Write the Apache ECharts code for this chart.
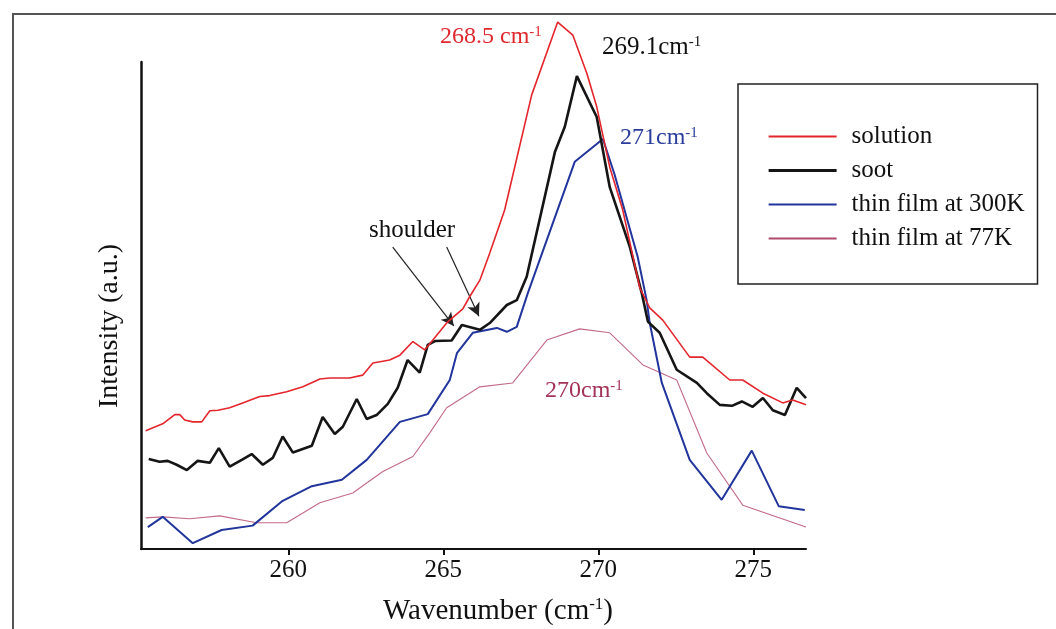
<!DOCTYPE html>
<html>
<head>
<meta charset="utf-8">
<script src="https://cdn.jsdelivr.net/npm/echarts@6/dist/echarts.min.js"></script>
<style>
html,body{margin:0;padding:0;background:#fff;}
#chart{width:1056px;height:629px;}
</style>
</head>
<body>
<div id="chart"></div>
<script>
// ---- data (wavenumber in cm^-1, intensity in arbitrary units) ----
const seriesNames = ['solution', 'soot', 'thin film at 300K', 'thin film at 77K'];
const xTicks = [260, 265, 270, 275];

const solution = [
  [255.40,24.3],[255.95,25.7],[256.34,27.6],[256.50,27.6],[256.66,26.5],[256.92,26.1],[257.21,26.1],
  [257.47,28.4],[257.73,28.5],[258.11,29.0],[258.53,30.0],[259.08,31.3],[259.40,31.5],[259.95,32.3],
  [260.47,33.3],[261.02,34.9],[261.34,35.1],[261.98,35.1],[262.40,35.7],[262.73,38.2],[263.27,38.8],
  [263.60,39.8],[264.02,42.6],[264.40,40.9],[264.56,42.1],[265.11,46.4],[265.21,47.0],[265.63,49.3],
  [265.85,51.8],[266.18,55.2],[266.50,60.8],[266.98,69.6],[267.85,93.2],[268.69,108.2],[269.18,105.5],
  [269.63,97.7],[269.95,90.8],[270.37,78.4],[270.79,69.6],[271.34,53.6],[271.66,49.5],[272.08,47.0],
  [272.95,39.4],[273.37,39.4],[274.24,34.7],[274.66,34.7],[275.31,32.0],[275.95,30.0],[276.27,30.6],
  [276.70,29.6]
];

const soot = [
  [255.50,18.5],[255.85,17.9],[256.11,18.1],[256.40,17.3],[256.73,16.2],[257.08,18.1],[257.47,17.7],
  [257.76,20.7],[258.11,16.9],[258.50,18.3],[258.82,19.5],[259.18,17.3],[259.50,18.7],[259.82,23.1],
  [260.15,19.8],[260.76,21.2],[261.11,27.1],[261.50,23.6],[261.76,25.1],[262.21,30.8],[262.53,26.7],
  [262.85,27.5],[263.21,29.8],[263.53,33.1],[263.85,38.8],[264.24,36.2],[264.50,41.9],[264.73,42.7],
  [265.27,42.8],[265.60,46.0],[266.18,45.0],[266.50,46.4],[267.05,50.1],[267.37,51.1],[267.69,55.9],
  [268.60,81.5],[268.92,86.7],[269.31,97.1],[269.95,88.7],[270.37,74.3],[271.02,62.0],[271.40,52.6],
  [271.60,46.7],[271.98,44.4],[272.53,36.8],[273.18,34.1],[273.50,32.0],[273.92,29.6],[274.31,29.4],
  [274.63,30.3],[274.98,29.2],[275.31,31.0],[275.63,28.5],[276.02,27.5],[276.40,33.1],[276.70,31.0]
];

const film300 = [
  [255.47,4.5],[255.95,6.6],[256.92,1.2],[257.85,3.9],[258.85,4.8],[259.82,9.9],[260.76,12.9],
  [261.73,14.2],[262.53,18.3],[263.60,26.1],[264.50,27.7],[265.21,34.7],[265.44,40.2],[265.95,44.4],
  [266.73,45.4],[267.05,44.6],[267.37,45.6],[267.73,52.6],[269.24,79.5],[270.15,84.2],[270.53,76.8],
  [271.27,60.0],[271.56,51.1],[271.66,46.4],[272.05,34.1],[272.95,18.3],[273.98,10.1],[274.95,20.2],
  [275.82,8.8],[276.66,8.0]
];

const film77 = [
  [255.40,6.4],[255.95,6.6],[256.82,6.2],[257.79,6.8],[258.98,5.4],[259.95,5.4],[261.02,9.5],
  [262.08,11.5],[263.05,15.9],[264.02,19.0],[264.56,23.8],[265.11,29.0],[266.18,33.3],[267.24,34.1],
  [268.34,42.9],[269.40,45.2],[270.37,44.4],[271.44,37.8],[272.53,34.7],[273.50,19.7],[274.66,9.0],
  [276.70,4.5]
];

// shoulder arrows: [start, end] in data coordinates
const shoulderArrows = [
  [[263.37, 62.0], [265.34, 45.8]],
  [[265.11, 62.0], [266.15, 47.8]]
];

// ---- styles ----
const FF = '"Liberation Serif", "Times New Roman", serif';
const colors = ['#e4262c', '#151515', '#22359c', '#c26a88'];
const widths = [1.6, 2.6, 2.0, 1.1];

const chart = echarts.init(document.getElementById('chart'), null, {renderer: 'canvas'});

function lineSeries(i, data, extra) {
  return Object.assign({
    name: seriesNames[i],
    type: 'line',
    data: data,
    symbol: 'none',
    smooth: false,
    clip: false,
    lineStyle: {color: colors[i], width: widths[i]},
    itemStyle: {color: colors[i]},
    z: 10 - i
  }, extra || {});
}

function supText(x, y, main, sup, color, size, supSize) {
  return {
    type: 'text', x: x, y: y, z: 50,
    style: {
      text: '{a|' + main + '}{s|' + sup + '}',
      align: 'left', verticalAlign: 'middle',
      fill: color,
      rich: {
        a: {fontFamily: FF, fontSize: size, fill: color, lineHeight: size},
        s: {fontFamily: FF, fontSize: supSize, fill: color, verticalAlign: 'top', lineHeight: supSize}
      }
    }
  };
}

const option = {
  backgroundColor: '#ffffff',
  animation: false,
  grid: {left: 141, right: 250, top: 62, bottom: 80, containLabel: false},
  xAxis: {
    type: 'value',
    min: 255.25,
    max: 276.7,
    axisLine: {show: true, onZero: false, lineStyle: {color: '#111', width: 2}},
    axisTick: {show: true, length: 6, customValues: xTicks, lineStyle: {color: '#111', width: 2}},
    axisLabel: {customValues: xTicks, fontFamily: FF, fontSize: 25, color: '#111', margin: 9},
    splitLine: {show: false}
  },
  yAxis: {
    type: 'value',
    min: 0,
    max: 100,
    axisLine: {show: true, onZero: false, lineStyle: {color: '#111', width: 2.5}},
    axisTick: {show: false},
    axisLabel: {show: false},
    splitLine: {show: false}
  },
  legend: {
    orient: 'vertical',
    left: 738,
    top: 84,
    padding: [40, 13, 33, 29],
    itemGap: 9,
    itemWidth: 68,
    itemHeight: 14,
    borderColor: '#222',
    borderWidth: 1.5,
    backgroundColor: '#fff',
    itemStyle: {opacity: 0},
    textStyle: {fontFamily: FF, fontSize: 25, color: '#111', lineHeight: 25, padding: [0, 0, 0, 10]},
    data: [
      {name: seriesNames[0]},
      {name: seriesNames[1], lineStyle: {width: 3.2}},
      {name: seriesNames[2]},
      {name: seriesNames[3], lineStyle: {width: 2, color: '#b04a6c'}}
    ]
  },
  series: [
    lineSeries(0, solution),
    lineSeries(1, soot, {
      markLine: {
        silent: true,
        symbol: ['none', 'arrow'],
        symbolSize: [10, 13],
        label: {show: false},
        lineStyle: {color: '#222', width: 1.2, type: 'solid'},
        emphasis: {disabled: true},
        data: shoulderArrows.map(a => [{coord: a[0]}, {coord: a[1]}])
      }
    }),
    lineSeries(2, film300),
    lineSeries(3, film77)
  ],
  graphic: [
    {type: 'rect', z: 0, shape: {x: 13, y: 14, width: 1100, height: 700},
     style: {fill: 'none', stroke: '#555', lineWidth: 2}},
    supText(440, 37, '268.5 cm', '-1', '#e0282e', 24, 15),
    supText(602, 47, '269.1cm', '-1', '#111', 25, 15),
    supText(620, 138, '271cm', '-1', '#2b3d9c', 24, 15),
    supText(545, 391, '270cm', '-1', '#a33256', 24, 15),
    {type: 'text', x: 412, y: 230, z: 50,
     style: {text: 'shoulder', fontFamily: FF, fontSize: 25, fill: '#111', align: 'center', verticalAlign: 'middle'}},
    {type: 'text', x: 110, y: 326, rotation: Math.PI / 2, z: 50,
     style: {text: 'Intensity (a.u.)', fontFamily: FF, fontSize: 28, fill: '#111', align: 'center', verticalAlign: 'middle'}},
    {type: 'text', x: 498, y: 611, z: 50,
     style: {
       text: '{a|Wavenumber (cm}{s|-1}{a|)}',
       align: 'center', verticalAlign: 'middle', fill: '#111',
       rich: {
         a: {fontFamily: FF, fontSize: 29, fill: '#111', lineHeight: 29},
         s: {fontFamily: FF, fontSize: 17, fill: '#111', verticalAlign: 'top', lineHeight: 17}
       }
     }}
  ]
};

chart.setOption(option);
</script>
</body>
</html>
